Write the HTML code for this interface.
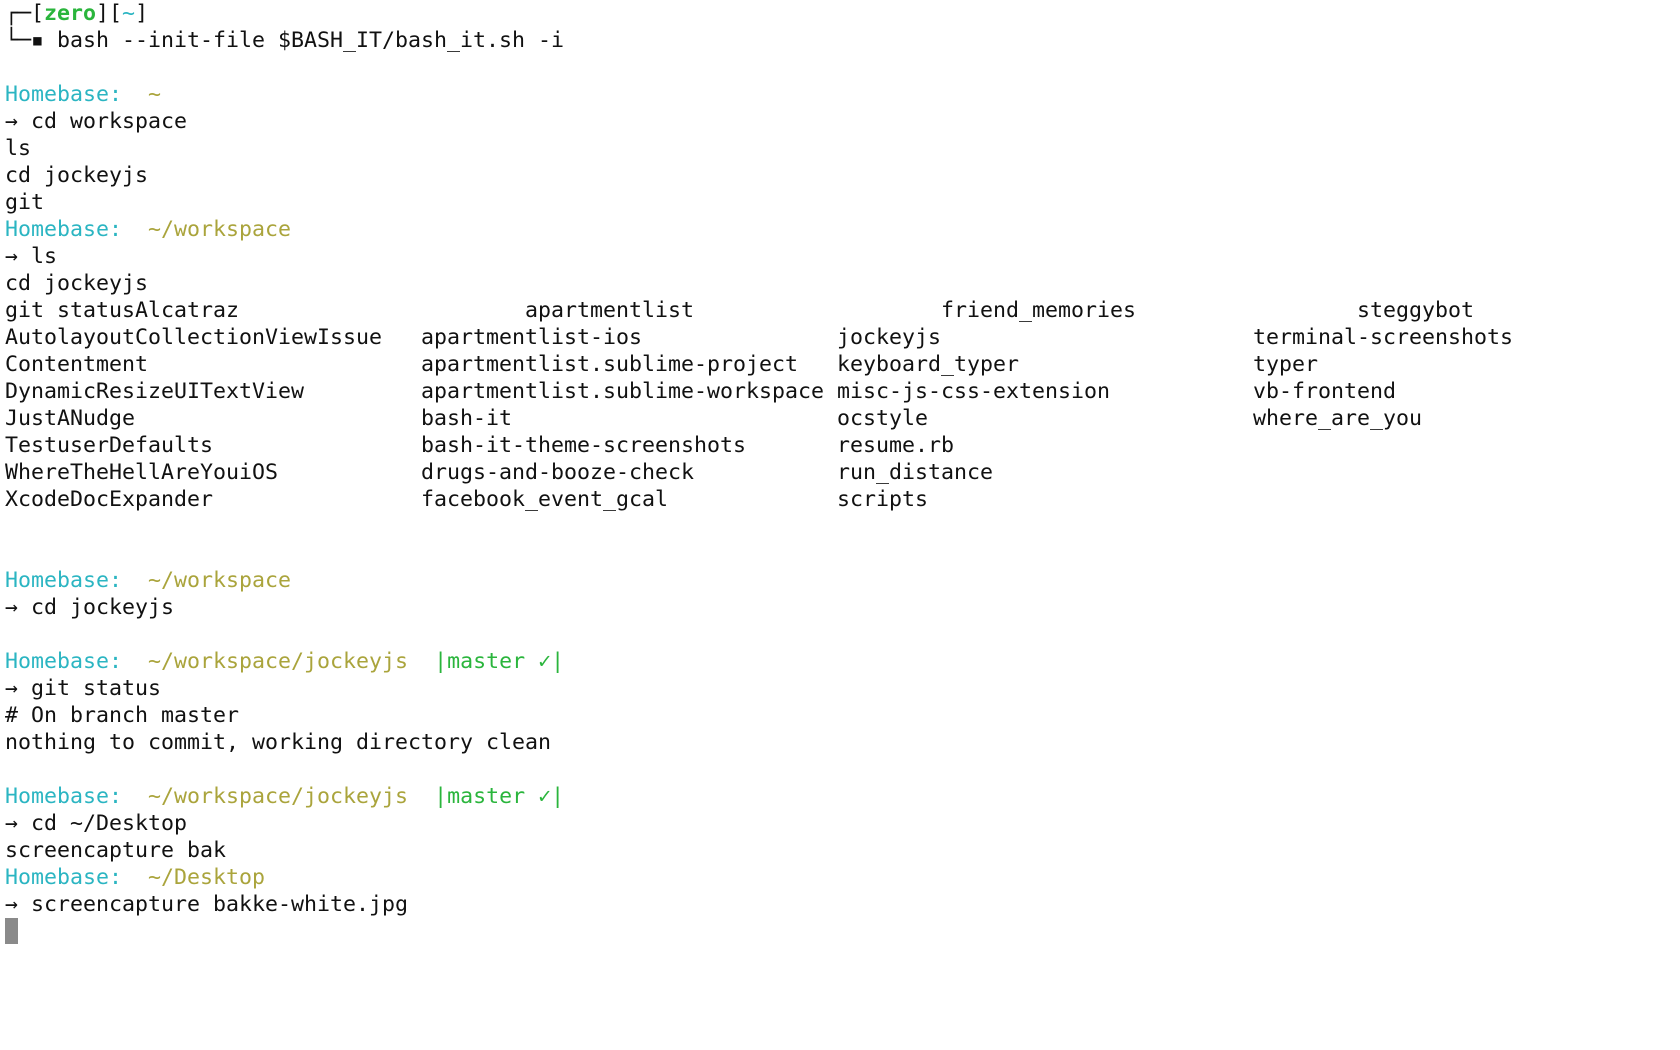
<!DOCTYPE html>
<html><head><meta charset="utf-8"><style>
html,body{margin:0;padding:0;background:#fff;width:1680px;height:1050px;overflow:hidden}
pre{margin:0;padding:0 0 0 5px;font-family:"DejaVu Sans Mono","Liberation Mono",monospace;font-size:21.6px;line-height:27px;color:#111}
.c{color:#2bb5c2}.y{color:#aaa43c}.g{color:#2ab53c}.gb{color:#2ab53c;font-weight:bold}
.cur{display:inline-block;width:13px;height:26px;background:#8a8a8a;vertical-align:top}
</style></head><body><pre>┌─[<span class="gb">zero</span>][<span class="c">~</span>]
└─▪ bash --init-file $BASH_IT/bash_it.sh -i

<span class="c">Homebase:</span>  <span class="y">~</span>
→ cd workspace
ls
cd jockeyjs
git
<span class="c">Homebase:</span>  <span class="y">~/workspace</span>
→ ls
cd jockeyjs
git statusAlcatraz                      apartmentlist                   friend_memories                 steggybot
AutolayoutCollectionViewIssue   apartmentlist-ios               jockeyjs                        terminal-screenshots
Contentment                     apartmentlist.sublime-project   keyboard_typer                  typer
DynamicResizeUITextView         apartmentlist.sublime-workspace misc-js-css-extension           vb-frontend
JustANudge                      bash-it                         ocstyle                         where_are_you
TestuserDefaults                bash-it-theme-screenshots       resume.rb
WhereTheHellAreYouiOS           drugs-and-booze-check           run_distance
XcodeDocExpander                facebook_event_gcal             scripts


<span class="c">Homebase:</span>  <span class="y">~/workspace</span>
→ cd jockeyjs

<span class="c">Homebase:</span>  <span class="y">~/workspace/jockeyjs</span>  <span class="g">|master ✓|</span>
→ git status
# On branch master
nothing to commit, working directory clean

<span class="c">Homebase:</span>  <span class="y">~/workspace/jockeyjs</span>  <span class="g">|master ✓|</span>
→ cd ~/Desktop
screencapture bak
<span class="c">Homebase:</span>  <span class="y">~/Desktop</span>
→ screencapture bakke-white.jpg
<span class="cur"></span></pre></body></html>
